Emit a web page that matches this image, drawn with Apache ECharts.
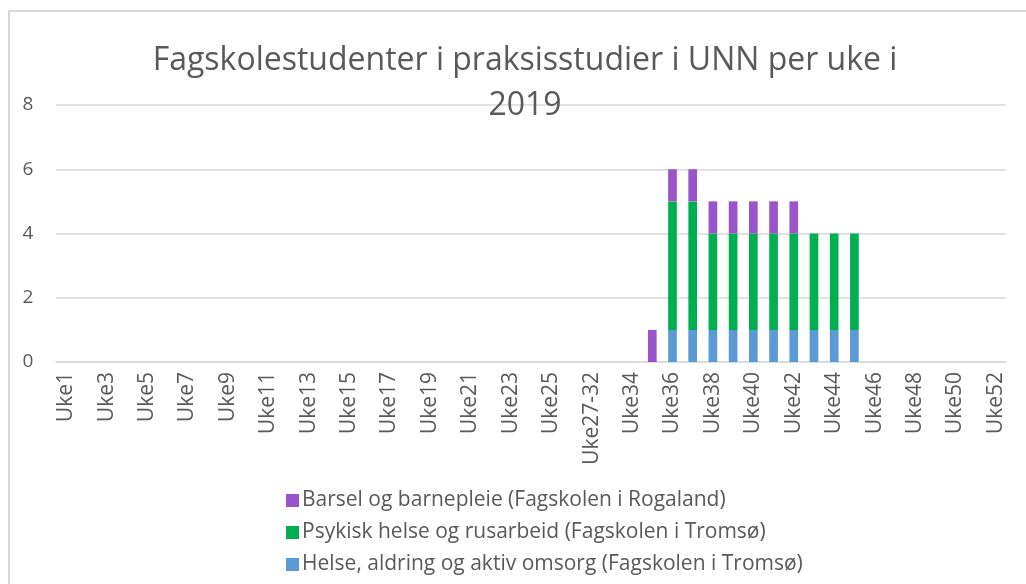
<!DOCTYPE html>
<html>
<head>
<meta charset="utf-8">
<script src="https://cdn.jsdelivr.net/npm/echarts@6/dist/echarts.min.js"></script>
<style>
html,body{margin:0;padding:0;background:#fff;}
#frame{position:absolute;left:8px;top:10px;width:1030px;height:600px;border-left:2px solid #d9d9d9;border-top:2px solid #d9d9d9;box-sizing:border-box;}
#chart{position:absolute;left:0;top:0;width:1026px;height:584px;}
</style>
</head>
<body>
<div id="frame"></div>
<div id="chart"></div>
<script>
const categories = [
  'Uke1','Uke2','Uke3','Uke4','Uke5','Uke6','Uke7','Uke8','Uke9','Uke10',
  'Uke11','Uke12','Uke13','Uke14','Uke15','Uke16','Uke17','Uke18','Uke19','Uke20',
  'Uke21','Uke22','Uke23','Uke24','Uke25','Uke26','Uke27-32','Uke33','Uke34','Uke35',
  'Uke36','Uke37','Uke38','Uke39','Uke40','Uke41','Uke42','Uke43','Uke44','Uke45',
  'Uke46','Uke47','Uke48','Uke49','Uke50','Uke51','Uke52'
];
const seriesNames = [
  'Helse, aldring og aktiv omsorg (Fagskolen i Tromsø)',
  'Psykisk helse og rusarbeid (Fagskolen i Tromsø)',
  'Barsel og barnepleie (Fagskolen i Rogaland)'
];
// values per category index (0 = empty)
const helse = [0,0,0,0,0,0,0,0,0,0, 0,0,0,0,0,0,0,0,0,0, 0,0,0,0,0,0,0,0,0,0, 1,1,1,1,1,1,1,1,1,1, 0,0,0,0,0,0,0];
const psykisk = [0,0,0,0,0,0,0,0,0,0, 0,0,0,0,0,0,0,0,0,0, 0,0,0,0,0,0,0,0,0,0, 4,4,3,3,3,3,3,3,3,3, 0,0,0,0,0,0,0];
const barsel = [0,0,0,0,0,0,0,0,0,0, 0,0,0,0,0,0,0,0,0,0, 0,0,0,0,0,0,0,0,0,1, 1,1,1,1,1,1,1,0,0,0, 0,0,0,0,0,0,0];
const yTicks = [0,2,4,6,8];
const colors = ['#5b9bd5','#00b050','#9954cc'];

const chart = echarts.init(document.getElementById('chart'));
const toData = arr => arr.map(v => v === 0 ? null : v);
chart.setOption({
  animation:false,
  backgroundColor:'transparent',
  title:{
    text:'Fagskolestudenter i praksisstudier i UNN per uke i\n2019',
    left:520, top:33, textAlign:'center',
    textStyle:{fontFamily:'Open Sans',fontWeight:'normal',fontSize:32,color:'#595959',lineHeight:45}
  },
  legend:{
    orient:'vertical', left:281, top:485,
    itemWidth:13, itemHeight:13, itemGap:11,
    icon:'rect',
    data:[seriesNames[2],seriesNames[1],seriesNames[0]],
    textStyle:{fontFamily:'Open Sans',fontSize:21,color:'#595959',padding:[0,0,0,-2]}
  },
  grid:{left:56,right:20,top:105,bottom:222,containLabel:false},
  xAxis:{
    type:'category', data:categories,
    axisLine:{lineStyle:{color:'#d9d9d9',width:1.5}},
    axisTick:{show:false},
    axisLabel:{interval:1,rotate:90,fontFamily:'Open Sans',fontSize:21,color:'#595959',margin:10}
  },
  yAxis:{
    type:'value', min:yTicks[0], max:yTicks[yTicks.length-1], interval:2,
    axisLine:{show:false}, axisTick:{show:false},
    splitLine:{lineStyle:{color:'#d9d9d9',width:1.5}},
    axisLabel:{fontFamily:'Open Sans',fontSize:19,color:'#595959',margin:28,align:'center'}
  },
  series:[
    {name:seriesNames[0],type:'bar',stack:'a',data:toData(helse),barWidth:'43%',itemStyle:{color:colors[0]}},
    {name:seriesNames[1],type:'bar',stack:'a',data:toData(psykisk),barWidth:'43%',itemStyle:{color:colors[1]}},
    {name:seriesNames[2],type:'bar',stack:'a',data:toData(barsel),barWidth:'43%',itemStyle:{color:colors[2]}}
  ]
});
</script>
</body>
</html>
